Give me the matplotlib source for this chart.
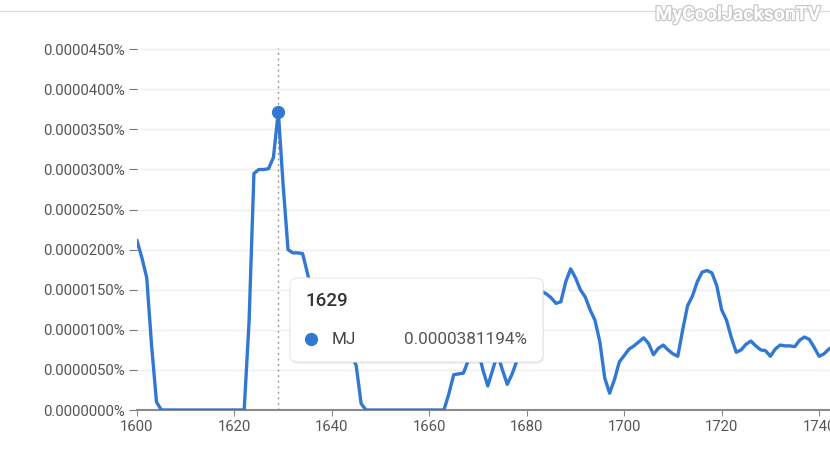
import matplotlib.pyplot as plt
import matplotlib.patheffects as pe
from matplotlib.patches import FancyBboxPatch
from matplotlib.ticker import FuncFormatter

plt.rcParams['font.family'] = ['Roboto', 'DejaVu Sans']

# values in units of 0.0000001 %
years = list(range(1600, 1744))
mj = [211, 190, 165, 80, 10] + [0] * 18 + \
     [110, 295, 300, 300, 301, 315, 372, 280, 200, 196, 196, 195, 170,
      145, 130, 120, 110, 100, 95, 90, 80, 70, 55, 8] + [0] * 17 + \
     [20, 44, 45, 46, 62, 80, 75, 50, 30, 50, 70, 50, 32, 45, 62, 85,
      112, 135, 145, 148, 145, 140, 133, 135, 160, 176, 165, 150, 141,
      125, 112, 85, 40, 21, 38, 60, 68, 76, 80, 85, 90, 83, 69, 77, 81,
      75, 70, 67, 100, 130, 142, 160, 172, 174, 171, 155, 125, 112, 90,
      72, 75, 82, 86, 80, 75, 74, 67, 76, 81, 80, 80, 79, 87, 91, 88,
      78, 67, 70, 76, 80]
yticks = [0, 50, 100, 150, 200, 250, 300, 350, 400, 450]
xticks = [1600, 1620, 1640, 1660, 1680, 1700, 1720, 1740]
hover_year = 1629
hover_label = '0.0000381194%'
series_name = 'MJ'

W, H = 830, 463
blue = '#3178d2'
fig = plt.figure(figsize=(W / 100, H / 100), dpi=100)
ax = fig.add_axes([137 / W, 53 / H, (W - 137) / W + 0.01, (410 - 30) / H])

ax.plot(years, mj, color=blue, lw=2.4, solid_joinstyle='round', zorder=3)
hv = mj[years.index(hover_year)]
ax.axvline(hover_year, ymax=452 / 474, color='#999999', lw=1, ls=(0, (1.5, 2.5)), zorder=2)
ax.plot([hover_year], [hv], 'o', color=blue, ms=8.5, zorder=4)

ax.set_xlim(1600, 1600 + (W - 137 + 8) / 4.87)
ax.set_ylim(0, 474)
ax.set_yticks(yticks)
ax.set_xticks(xticks)
ax.yaxis.set_major_formatter(FuncFormatter(lambda v, p: f'{v * 1e-7:.7f}%'))
ax.grid(axis='y', color='#eeeeee', lw=1)
ax.set_axisbelow(True)
for s in ['top', 'right', 'left']:
    ax.spines[s].set_visible(False)
ax.spines['bottom'].set_color('#8a8a8a')
ax.spines['bottom'].set_linewidth(1.5)
ax.tick_params(axis='y', length=6, color='#777777', labelcolor='#555555', labelsize=10.7, pad=3)
ax.tick_params(axis='x', length=4, color='#8a8a8a', labelcolor='#555555', labelsize=10.7, pad=3)

# top border line
fig.add_artist(plt.Line2D([0, 1], [1 - 11 / H, 1 - 11 / H], color='#dddddd', lw=1))

# tooltip
x0, y0, x1, y1 = 290, 278, 543, 362
shadow = FancyBboxPatch((x0 / W + 0.001, 1 - y1 / H - 0.004), (x1 - x0) / W, (y1 - y0) / H,
                        boxstyle='round,pad=0,rounding_size=0.012', transform=fig.transFigure,
                        facecolor='#000000', alpha=0.08, edgecolor='none', zorder=10)
box = FancyBboxPatch((x0 / W, 1 - y1 / H), (x1 - x0) / W, (y1 - y0) / H,
                     boxstyle='round,pad=0,rounding_size=0.012', transform=fig.transFigure,
                     facecolor='white', edgecolor='#e6e6e6', lw=0.8, zorder=11)
fig.add_artist(shadow)
fig.add_artist(box)
fig.text(305 / W, 1 - 301 / H, str(hover_year), fontsize=13.5, fontweight='medium',
         color='#333333', va='center', ha='left', zorder=12)
fig.add_artist(plt.Line2D([311 / W], [1 - 339 / H], marker='o', ms=8.5, color=blue, zorder=12))
fig.text(332 / W, 1 - 339 / H, series_name, fontsize=12.3, color='#444444', va='center', ha='left', zorder=12)
fig.text(527 / W, 1 - 340 / H, hover_label, fontsize=12.3, color='#555555', va='center', ha='right', zorder=12)

# watermark
fig.text(821 / W, 1 - 15 / H, 'MyCoolJacksonTV', fontsize=14, fontweight='bold', color='white',
         ha='right', va='center', zorder=12,
         path_effects=[pe.withStroke(linewidth=1.8, foreground='#c8c8c8')])

fig.savefig('out.png', dpi=100)
